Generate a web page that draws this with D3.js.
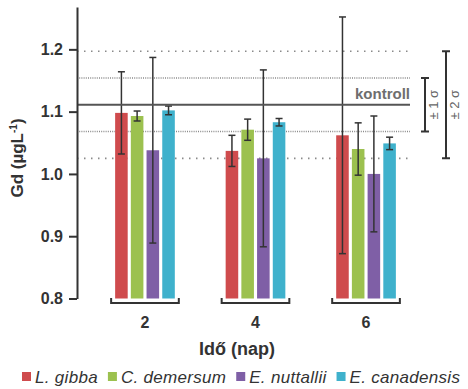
<!DOCTYPE html>
<html lang="hu">
<head>
    <meta charset="UTF-8">
    <title>Gd koncentráció</title>
    <style>
        body {
            margin: 0;
            background-color: #FFFFFF;
            font-family: Arial, "Liberation Sans", sans-serif;
        }
        svg text {
            fill: #333333;
        }
    </style>
</head>
<body>
    <div id="chart"></div>

    <script src="https://d3js.org/d3.v7.min.js"></script>
    <script>
        // Data
        const days = ["2", "4", "6"];
        const species = ["L. gibba", "C. demersum", "E. nuttallii", "E. canadensis"];
        const colors = ["#cf4b4d", "#9cc14f", "#7f5fa6", "#3fb1cc"];

        // mean Gd per species, one array per day
        const means = [
            [1.098, 1.093, 1.038, 1.102],
            [1.037, 1.071, 1.025, 1.083],
            [1.062, 1.040, 1.000, 1.049]
        ];
        // standard deviation (error bars)
        const errors = [
            [0.066, 0.008, 0.149, 0.007],
            [0.025, 0.017, 0.142, 0.006],
            [0.190, 0.042, 0.093, 0.010]
        ];

        const yTicks = [0.8, 0.9, 1.0, 1.1, 1.2];
        const kontroll = 1.111;
        const sigma = 0.043;

        const width = 468;
        const height = 389;
        const axisX = 77;
        const plotTop = 7;
        const plotBottom = 298.5;
        const lineEnd = 410;

        const svg = d3.select("#chart")
            .append("svg")
            .attr("width", width)
            .attr("height", height);

        // Scales
        const y = d3.scaleLinear()
            .domain([0.8, 1.268])
            .range([plotBottom, plotTop]);

        const x = d3.scaleBand()
            .domain(days)
            .range([axisX, 434])
            .paddingInner(0.46)
            .paddingOuter(0.345);

        const xSub = d3.scaleBand()
            .domain(species)
            .range([0, x.bandwidth()])
            .paddingInner(0.2);

        // Reference lines (behind the bars)
        const refLines = [
            { v: kontroll + 2 * sigma, dash: "1.5,5.5", w: 1.6, c: "#8a8a8a" },
            { v: kontroll + sigma, dash: "1,1.2", w: 1.6, c: "#8a8a8a" },
            { v: kontroll - sigma, dash: "1,1.2", w: 1.6, c: "#8a8a8a" },
            { v: kontroll - 2 * sigma, dash: "1.5,5.5", w: 1.6, c: "#8a8a8a" }
        ];

        svg.selectAll(".ref")
            .data(refLines)
            .enter()
            .append("line")
            .attr("x1", axisX)
            .attr("x2", lineEnd)
            .attr("y1", d => y(d.v))
            .attr("y2", d => y(d.v))
            .attr("stroke", d => d.c)
            .attr("stroke-width", d => d.w)
            .attr("stroke-dasharray", d => d.dash);

        // Bars
        const groups = svg.selectAll(".group")
            .data(days)
            .enter()
            .append("g")
            .attr("transform", d => `translate(${x(d)},0)`);

        groups.selectAll("rect")
            .data((d, i) => species.map((s, j) => ({ s: s, j: j, m: means[i][j], e: errors[i][j] })))
            .enter()
            .append("rect")
            .attr("x", d => xSub(d.s))
            .attr("width", xSub.bandwidth())
            .attr("y", d => y(d.m))
            .attr("height", d => plotBottom - y(d.m))
            .attr("fill", d => colors[d.j]);

        // Control line (drawn over the bars)
        svg.append("line")
            .attr("x1", axisX)
            .attr("x2", lineEnd)
            .attr("y1", y(kontroll))
            .attr("y2", y(kontroll))
            .attr("stroke", "#555555")
            .attr("stroke-width", 2);

        svg.append("text")
            .attr("x", lineEnd)
            .attr("y", y(kontroll) - 6)
            .attr("text-anchor", "end")
            .attr("font-size", "15px")
            .attr("font-weight", "bold")
            .style("fill", "#6e6e6e")
            .text("kontroll");

        // Error bars
        const cap = 3.5;
        const errG = groups.selectAll(".err")
            .data((d, i) => species.map((s, j) => ({ s: s, m: means[i][j], e: errors[i][j] })))
            .enter()
            .append("g")
            .attr("stroke", "#333333")
            .attr("stroke-width", 1.5);

        errG.append("line")
            .attr("x1", d => xSub(d.s) + xSub.bandwidth() / 2)
            .attr("x2", d => xSub(d.s) + xSub.bandwidth() / 2)
            .attr("y1", d => y(d.m + d.e))
            .attr("y2", d => y(d.m - d.e));

        errG.selectAll(".cap")
            .data(d => [d.m + d.e, d.m - d.e].map(v => ({ s: d.s, v: v })))
            .enter()
            .append("line")
            .attr("x1", d => xSub(d.s) + xSub.bandwidth() / 2 - cap)
            .attr("x2", d => xSub(d.s) + xSub.bandwidth() / 2 + cap)
            .attr("y1", d => y(d.v))
            .attr("y2", d => y(d.v));

        // Y axis
        const yAxis = d3.axisLeft(y)
            .tickValues(yTicks)
            .tickFormat(d3.format(".1f"))
            .tickSize(8)
            .tickSizeOuter(0)
            .tickPadding(6);

        const yG = svg.append("g")
            .attr("transform", `translate(${axisX},0)`)
            .call(yAxis);

        yG.select(".domain")
            .attr("stroke", "#333333")
            .attr("stroke-width", 2);
        yG.selectAll(".tick line")
            .attr("stroke", "#333333")
            .attr("stroke-width", 2);
        yG.selectAll(".tick text")
            .attr("font-size", "16px")
            .attr("font-weight", "bold")
            .attr("font-family", "Arial, 'Liberation Sans', sans-serif")
            .style("fill", "#333333");

        // Y title
        const yTitle = svg.append("text")
            .attr("transform", "translate(23,158) rotate(-90)")
            .attr("text-anchor", "middle")
            .attr("font-size", "17px")
            .attr("font-weight", "bold");
        yTitle.append("tspan").text("Gd (µgL");
        yTitle.append("tspan").attr("dy", -6).attr("font-size", "10px").text("-1");
        yTitle.append("tspan").attr("dy", 6).text(")");

        // Group brackets instead of an x axis
        const bracketY = 303;
        groups.append("path")
            .attr("d", `M-4,${bracketY - 5}V${bracketY}H${x.bandwidth() + 4}V${bracketY - 5}`)
            .attr("fill", "none")
            .attr("stroke", "#333333")
            .attr("stroke-width", 2);

        groups.append("text")
            .attr("x", x.bandwidth() / 2)
            .attr("y", 328)
            .attr("text-anchor", "middle")
            .attr("font-size", "16px")
            .attr("font-weight", "bold")
            .text(d => d);

        svg.append("text")
            .attr("x", 237)
            .attr("y", 355)
            .attr("text-anchor", "middle")
            .attr("font-size", "18px")
            .attr("font-weight", "bold")
            .text("Idő (nap)");

        // Sigma brackets on the right
        const sigmaMarks = [
            { k: 1, bx: lineEnd + 15, label: "± 1 σ" },
            { k: 2, bx: lineEnd + 36, label: "± 2 σ" }
        ];
        sigmaMarks.forEach(d => {
            const y1 = y(kontroll + d.k * sigma);
            const y2 = y(kontroll - d.k * sigma);
            svg.append("path")
                .attr("d", `M${d.bx - 4},${y1}H${d.bx + 4}M${d.bx},${y1}V${y2}M${d.bx - 4},${y2}H${d.bx + 4}`)
                .attr("fill", "none")
                .attr("stroke", "#333333")
                .attr("stroke-width", 2);
            svg.append("text")
                .attr("transform", `translate(${d.bx + 13},${y(kontroll)}) rotate(-90)`)
                .attr("text-anchor", "middle")
                .attr("font-size", "13px")
                .style("fill", "#666666")
                .text(d.label);
        });

        // Legend
        const legend = svg.append("g").attr("transform", "translate(22,377)");
        let lx = 0;
        species.forEach((s, i) => {
            legend.append("rect")
                .attr("x", lx)
                .attr("y", -5)
                .attr("width", 9)
                .attr("height", 9)
                .attr("fill", colors[i]);
            const t = legend.append("text")
                .attr("x", lx + 13)
                .attr("y", 5.5)
                .attr("font-size", "17px")
                .attr("font-style", "italic")
                .attr("letter-spacing", "0.3px")
                .text(s);
            lx += 13 + t.node().getComputedTextLength() + 10;
        });
    </script>
</body>
</html>
